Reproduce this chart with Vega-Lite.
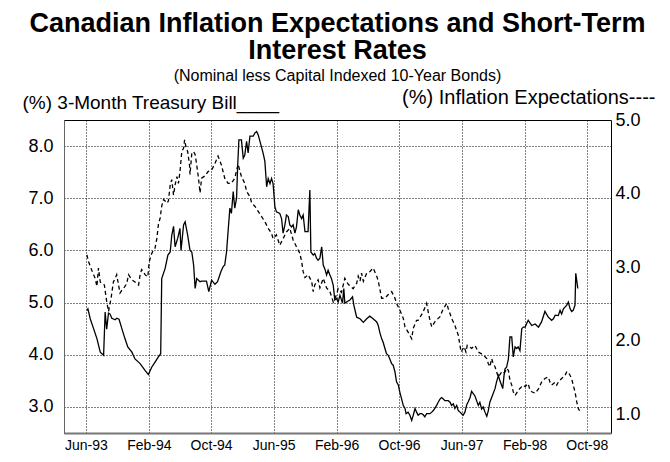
{
  "$schema": "https://vega.github.io/schema/vega-lite/v6.json",
  "width": 547,
  "height": 313,
  "autosize": {"type": "none"},
  "padding": {"left": 64, "top": 120, "right": 59, "bottom": 29},
  "background": "white",
  "title": {
    "text": ["Canadian Inflation Expectations and Short-Term", "Interest Rates"],
    "subtitle": "(Nominal less Capital Indexed 10-Year Bonds)",
    "font": "Liberation Sans",
    "fontSize": 27,
    "fontWeight": "bold",
    "color": "black",
    "lineHeight": 27,
    "subtitleFont": "Liberation Sans",
    "subtitleFontSize": 16,
    "subtitleColor": "black",
    "subtitlePadding": 3,
    "anchor": "middle",
    "frame": "group",
    "offset": 2
  },
  "config": {
    "view": {"stroke": "black", "strokeWidth": 1},
    "axis": {
      "labelFont": "Liberation Sans",
      "titleFont": "Liberation Sans",
      "labelColor": "black",
      "titleColor": "black",
      "ticks": false,
      "gridColor": "black",
      "gridDash": [1, 2],
      "gridWidth": 1,
      "gridOpacity": 1
    }
  },
  "datasets": {
    "tbill": [
      {"date": "1993-06-05", "value": 4.85}, {"date": "1993-06-09", "value": 4.88}, {"date": "1993-06-18", "value": 4.69},
      {"date": "1993-07-01", "value": 4.50}, {"date": "1993-07-14", "value": 4.31}, {"date": "1993-07-27", "value": 4.05},
      {"date": "1993-08-09", "value": 3.99}, {"date": "1993-08-15", "value": 4.82}, {"date": "1993-08-21", "value": 4.49},
      {"date": "1993-08-28", "value": 4.80}, {"date": "1993-09-03", "value": 4.78}, {"date": "1993-09-10", "value": 4.70},
      {"date": "1993-09-23", "value": 4.67}, {"date": "1993-09-29", "value": 4.70}, {"date": "1993-10-08", "value": 4.68},
      {"date": "1993-10-19", "value": 4.50}, {"date": "1993-10-31", "value": 4.31}, {"date": "1993-11-11", "value": 4.15},
      {"date": "1993-11-27", "value": 4.05}, {"date": "1993-12-09", "value": 3.92}, {"date": "1993-12-29", "value": 3.83},
      {"date": "1994-01-17", "value": 3.70}, {"date": "1994-01-30", "value": 3.62}, {"date": "1994-02-12", "value": 3.76},
      {"date": "1994-02-25", "value": 3.86}, {"date": "1994-03-10", "value": 3.96}, {"date": "1994-03-19", "value": 4.02},
      {"date": "1994-03-23", "value": 5.46}, {"date": "1994-04-05", "value": 5.65}, {"date": "1994-04-16", "value": 5.91},
      {"date": "1994-04-25", "value": 5.97}, {"date": "1994-05-01", "value": 6.29}, {"date": "1994-05-08", "value": 6.46},
      {"date": "1994-05-14", "value": 6.07}, {"date": "1994-05-24", "value": 6.23}, {"date": "1994-06-02", "value": 6.42},
      {"date": "1994-06-06", "value": 6.00}, {"date": "1994-06-16", "value": 6.49}, {"date": "1994-06-22", "value": 6.55},
      {"date": "1994-07-02", "value": 6.29}, {"date": "1994-07-11", "value": 6.00}, {"date": "1994-07-18", "value": 5.97},
      {"date": "1994-07-25", "value": 5.72}, {"date": "1994-07-31", "value": 5.27}, {"date": "1994-08-06", "value": 5.46},
      {"date": "1994-08-19", "value": 5.40}, {"date": "1994-08-25", "value": 5.41}, {"date": "1994-09-13", "value": 5.41},
      {"date": "1994-09-22", "value": 5.21}, {"date": "1994-10-03", "value": 5.43}, {"date": "1994-10-16", "value": 5.35},
      {"date": "1994-10-26", "value": 5.40}, {"date": "1994-11-08", "value": 5.59}, {"date": "1994-11-17", "value": 5.69},
      {"date": "1994-11-23", "value": 5.72}, {"date": "1994-11-30", "value": 5.97}, {"date": "1994-12-06", "value": 6.36},
      {"date": "1994-12-13", "value": 6.81}, {"date": "1994-12-19", "value": 6.71}, {"date": "1994-12-26", "value": 7.13},
      {"date": "1995-01-01", "value": 6.81}, {"date": "1995-01-08", "value": 7.00}, {"date": "1995-01-12", "value": 7.58},
      {"date": "1995-01-17", "value": 8.12}, {"date": "1995-01-27", "value": 8.12}, {"date": "1995-02-03", "value": 7.77},
      {"date": "1995-02-09", "value": 7.83}, {"date": "1995-02-16", "value": 8.09}, {"date": "1995-02-22", "value": 7.87},
      {"date": "1995-03-01", "value": 8.19}, {"date": "1995-03-14", "value": 8.19}, {"date": "1995-03-20", "value": 8.25},
      {"date": "1995-03-27", "value": 8.28}, {"date": "1995-04-02", "value": 8.22}, {"date": "1995-04-09", "value": 8.09},
      {"date": "1995-04-21", "value": 7.87}, {"date": "1995-04-28", "value": 7.71}, {"date": "1995-05-05", "value": 7.22},
      {"date": "1995-05-11", "value": 7.38}, {"date": "1995-05-18", "value": 7.28}, {"date": "1995-05-24", "value": 7.38},
      {"date": "1995-05-30", "value": 7.28}, {"date": "1995-06-06", "value": 6.84}, {"date": "1995-06-12", "value": 6.74},
      {"date": "1995-06-25", "value": 6.71}, {"date": "1995-07-02", "value": 6.61}, {"date": "1995-07-08", "value": 6.33},
      {"date": "1995-07-15", "value": 6.49}, {"date": "1995-07-21", "value": 6.68}, {"date": "1995-07-28", "value": 6.65},
      {"date": "1995-08-03", "value": 6.49}, {"date": "1995-08-10", "value": 6.45}, {"date": "1995-08-16", "value": 6.49},
      {"date": "1995-08-23", "value": 6.33}, {"date": "1995-08-29", "value": 6.45}, {"date": "1995-09-05", "value": 6.78},
      {"date": "1995-09-11", "value": 6.68}, {"date": "1995-09-18", "value": 6.61}, {"date": "1995-09-24", "value": 6.68},
      {"date": "1995-10-01", "value": 6.36}, {"date": "1995-10-13", "value": 6.36}, {"date": "1995-10-20", "value": 7.16},
      {"date": "1995-10-24", "value": 5.97}, {"date": "1995-11-02", "value": 5.91}, {"date": "1995-11-08", "value": 5.94},
      {"date": "1995-11-15", "value": 5.85}, {"date": "1995-11-21", "value": 5.81}, {"date": "1995-11-28", "value": 5.85},
      {"date": "1995-12-05", "value": 6.07}, {"date": "1995-12-11", "value": 5.72}, {"date": "1995-12-17", "value": 5.65},
      {"date": "1995-12-24", "value": 5.53}, {"date": "1995-12-30", "value": 5.62}, {"date": "1996-01-06", "value": 5.53},
      {"date": "1996-01-12", "value": 5.46}, {"date": "1996-01-19", "value": 5.33}, {"date": "1996-01-25", "value": 5.05},
      {"date": "1996-02-01", "value": 5.08}, {"date": "1996-02-07", "value": 5.01}, {"date": "1996-02-14", "value": 5.14},
      {"date": "1996-02-24", "value": 4.99}, {"date": "1996-02-29", "value": 5.27}, {"date": "1996-03-04", "value": 4.99},
      {"date": "1996-03-17", "value": 5.03}, {"date": "1996-03-24", "value": 5.05}, {"date": "1996-04-03", "value": 5.11},
      {"date": "1996-04-08", "value": 4.95}, {"date": "1996-04-19", "value": 4.72}, {"date": "1996-05-02", "value": 4.69},
      {"date": "1996-05-15", "value": 4.62}, {"date": "1996-05-28", "value": 4.69}, {"date": "1996-06-09", "value": 4.74},
      {"date": "1996-06-22", "value": 4.69}, {"date": "1996-07-06", "value": 4.63}, {"date": "1996-07-12", "value": 4.56},
      {"date": "1996-07-18", "value": 4.43}, {"date": "1996-07-25", "value": 4.31}, {"date": "1996-07-31", "value": 4.24},
      {"date": "1996-08-07", "value": 4.12}, {"date": "1996-08-13", "value": 4.02}, {"date": "1996-08-20", "value": 3.99},
      {"date": "1996-08-26", "value": 3.92}, {"date": "1996-09-02", "value": 3.83}, {"date": "1996-09-08", "value": 3.80},
      {"date": "1996-09-15", "value": 3.67}, {"date": "1996-09-21", "value": 3.48}, {"date": "1996-09-28", "value": 3.42},
      {"date": "1996-10-04", "value": 3.28}, {"date": "1996-10-11", "value": 3.15}, {"date": "1996-10-17", "value": 3.03},
      {"date": "1996-10-24", "value": 2.97}, {"date": "1996-10-28", "value": 2.87}, {"date": "1996-11-05", "value": 2.90},
      {"date": "1996-11-12", "value": 2.84}, {"date": "1996-11-19", "value": 2.74}, {"date": "1996-11-25", "value": 2.84},
      {"date": "1996-12-02", "value": 2.97}, {"date": "1996-12-08", "value": 2.90}, {"date": "1996-12-14", "value": 2.84},
      {"date": "1996-12-21", "value": 2.87}, {"date": "1996-12-28", "value": 2.87}, {"date": "1997-01-03", "value": 2.85},
      {"date": "1997-01-09", "value": 2.81}, {"date": "1997-01-16", "value": 2.87}, {"date": "1997-01-29", "value": 2.87},
      {"date": "1997-02-05", "value": 2.90}, {"date": "1997-02-11", "value": 2.93}, {"date": "1997-02-17", "value": 2.97},
      {"date": "1997-02-24", "value": 3.03}, {"date": "1997-03-02", "value": 3.09}, {"date": "1997-03-09", "value": 3.15},
      {"date": "1997-03-15", "value": 3.18}, {"date": "1997-03-22", "value": 3.15}, {"date": "1997-03-28", "value": 3.12},
      {"date": "1997-04-04", "value": 3.12}, {"date": "1997-04-10", "value": 3.12}, {"date": "1997-04-17", "value": 3.09},
      {"date": "1997-04-23", "value": 3.03}, {"date": "1997-04-30", "value": 3.06}, {"date": "1997-05-06", "value": 2.97},
      {"date": "1997-05-13", "value": 3.03}, {"date": "1997-05-19", "value": 2.93}, {"date": "1997-05-26", "value": 2.90},
      {"date": "1997-06-01", "value": 2.87}, {"date": "1997-06-07", "value": 2.84}, {"date": "1997-06-14", "value": 2.90},
      {"date": "1997-06-21", "value": 3.04}, {"date": "1997-06-27", "value": 3.10}, {"date": "1997-07-04", "value": 3.18},
      {"date": "1997-07-10", "value": 3.30}, {"date": "1997-07-23", "value": 3.21}, {"date": "1997-08-05", "value": 3.03},
      {"date": "1997-08-11", "value": 3.09}, {"date": "1997-08-18", "value": 2.96}, {"date": "1997-08-24", "value": 3.00},
      {"date": "1997-08-31", "value": 2.90}, {"date": "1997-09-07", "value": 2.82}, {"date": "1997-09-13", "value": 2.93},
      {"date": "1997-09-19", "value": 3.09}, {"date": "1997-09-26", "value": 3.18}, {"date": "1997-10-09", "value": 3.35},
      {"date": "1997-10-15", "value": 3.48}, {"date": "1997-10-22", "value": 3.60}, {"date": "1997-10-28", "value": 3.50},
      {"date": "1997-11-04", "value": 3.41}, {"date": "1997-11-08", "value": 3.35}, {"date": "1997-11-13", "value": 3.60},
      {"date": "1997-11-17", "value": 3.73}, {"date": "1997-11-23", "value": 3.76}, {"date": "1997-11-30", "value": 3.92},
      {"date": "1997-12-06", "value": 4.34}, {"date": "1997-12-13", "value": 4.34}, {"date": "1997-12-19", "value": 3.96},
      {"date": "1997-12-26", "value": 4.15}, {"date": "1998-01-01", "value": 4.12}, {"date": "1998-01-07", "value": 4.15},
      {"date": "1998-01-14", "value": 4.08}, {"date": "1998-01-21", "value": 4.50}, {"date": "1998-01-27", "value": 4.53},
      {"date": "1998-02-03", "value": 4.53}, {"date": "1998-02-09", "value": 4.60}, {"date": "1998-02-15", "value": 4.66},
      {"date": "1998-03-01", "value": 4.56}, {"date": "1998-03-14", "value": 4.59}, {"date": "1998-03-27", "value": 4.53},
      {"date": "1998-04-08", "value": 4.63}, {"date": "1998-04-21", "value": 4.83}, {"date": "1998-05-04", "value": 4.72},
      {"date": "1998-05-11", "value": 4.69}, {"date": "1998-05-17", "value": 4.66}, {"date": "1998-05-24", "value": 4.69},
      {"date": "1998-05-31", "value": 4.76}, {"date": "1998-06-12", "value": 4.75}, {"date": "1998-06-19", "value": 4.85},
      {"date": "1998-06-25", "value": 4.78}, {"date": "1998-07-02", "value": 4.88}, {"date": "1998-07-15", "value": 4.95},
      {"date": "1998-07-21", "value": 5.01}, {"date": "1998-07-28", "value": 4.88}, {"date": "1998-08-03", "value": 4.83},
      {"date": "1998-08-09", "value": 4.85}, {"date": "1998-08-16", "value": 4.95}, {"date": "1998-08-19", "value": 5.56},
      {"date": "1998-08-27", "value": 5.27}
    ],
    "infl": [
      {"date": "1993-06-05", "value": 3.17}, {"date": "1993-06-11", "value": 3.08}, {"date": "1993-06-24", "value": 2.96},
      {"date": "1993-07-07", "value": 2.85}, {"date": "1993-07-14", "value": 2.74}, {"date": "1993-07-20", "value": 2.99},
      {"date": "1993-07-27", "value": 2.80}, {"date": "1993-08-02", "value": 2.78}, {"date": "1993-08-12", "value": 2.76},
      {"date": "1993-08-19", "value": 2.58}, {"date": "1993-08-28", "value": 2.40}, {"date": "1993-09-07", "value": 2.58},
      {"date": "1993-09-16", "value": 2.80}, {"date": "1993-09-23", "value": 2.85}, {"date": "1993-09-29", "value": 2.90},
      {"date": "1993-10-06", "value": 2.76}, {"date": "1993-10-12", "value": 2.65}, {"date": "1993-10-19", "value": 2.69},
      {"date": "1993-10-31", "value": 2.74}, {"date": "1993-11-07", "value": 2.78}, {"date": "1993-11-14", "value": 2.90},
      {"date": "1993-11-27", "value": 2.83}, {"date": "1993-12-09", "value": 2.80}, {"date": "1993-12-23", "value": 2.76},
      {"date": "1993-12-29", "value": 2.90}, {"date": "1994-01-04", "value": 2.97}, {"date": "1994-01-11", "value": 2.94},
      {"date": "1994-01-17", "value": 2.90}, {"date": "1994-01-28", "value": 2.87}, {"date": "1994-02-02", "value": 3.07},
      {"date": "1994-02-10", "value": 3.17}, {"date": "1994-02-19", "value": 3.24}, {"date": "1994-02-25", "value": 3.26},
      {"date": "1994-03-04", "value": 3.39}, {"date": "1994-03-10", "value": 3.58}, {"date": "1994-03-17", "value": 3.67},
      {"date": "1994-03-23", "value": 3.83}, {"date": "1994-03-30", "value": 3.92}, {"date": "1994-04-05", "value": 3.90},
      {"date": "1994-04-12", "value": 3.87}, {"date": "1994-04-18", "value": 3.90}, {"date": "1994-04-25", "value": 4.12},
      {"date": "1994-05-01", "value": 4.19}, {"date": "1994-05-08", "value": 3.98}, {"date": "1994-05-14", "value": 4.12},
      {"date": "1994-05-21", "value": 4.23}, {"date": "1994-05-27", "value": 4.14}, {"date": "1994-06-02", "value": 4.30},
      {"date": "1994-06-09", "value": 4.57}, {"date": "1994-06-16", "value": 4.62}, {"date": "1994-06-20", "value": 4.73},
      {"date": "1994-06-25", "value": 4.64}, {"date": "1994-07-02", "value": 4.57}, {"date": "1994-07-09", "value": 4.39},
      {"date": "1994-07-11", "value": 4.26}, {"date": "1994-07-18", "value": 4.55}, {"date": "1994-07-25", "value": 4.57},
      {"date": "1994-07-31", "value": 4.53}, {"date": "1994-08-06", "value": 4.39}, {"date": "1994-08-13", "value": 4.21},
      {"date": "1994-08-19", "value": 4.01}, {"date": "1994-08-25", "value": 4.21}, {"date": "1994-09-07", "value": 4.24},
      {"date": "1994-09-19", "value": 4.30}, {"date": "1994-10-03", "value": 4.32}, {"date": "1994-10-16", "value": 4.41},
      {"date": "1994-10-28", "value": 4.51}, {"date": "1994-11-10", "value": 4.39}, {"date": "1994-11-23", "value": 4.21},
      {"date": "1994-12-06", "value": 4.14}, {"date": "1994-12-19", "value": 4.14}, {"date": "1995-01-01", "value": 4.21},
      {"date": "1995-01-14", "value": 4.40}, {"date": "1995-01-27", "value": 4.23}, {"date": "1995-02-09", "value": 4.14},
      {"date": "1995-02-16", "value": 4.03}, {"date": "1995-03-01", "value": 3.96}, {"date": "1995-03-08", "value": 3.87},
      {"date": "1995-03-20", "value": 3.83}, {"date": "1995-04-02", "value": 3.76}, {"date": "1995-04-15", "value": 3.69},
      {"date": "1995-04-28", "value": 3.62}, {"date": "1995-05-11", "value": 3.53}, {"date": "1995-05-24", "value": 3.46},
      {"date": "1995-05-30", "value": 3.39}, {"date": "1995-06-12", "value": 3.44}, {"date": "1995-06-25", "value": 3.30},
      {"date": "1995-07-08", "value": 3.39}, {"date": "1995-07-21", "value": 3.48}, {"date": "1995-08-03", "value": 3.53},
      {"date": "1995-08-16", "value": 3.37}, {"date": "1995-08-29", "value": 3.28}, {"date": "1995-09-11", "value": 3.19},
      {"date": "1995-09-18", "value": 3.08}, {"date": "1995-09-24", "value": 2.94}, {"date": "1995-10-01", "value": 2.86},
      {"date": "1995-10-13", "value": 2.90}, {"date": "1995-10-27", "value": 2.81}, {"date": "1995-11-02", "value": 2.67},
      {"date": "1995-11-08", "value": 2.76}, {"date": "1995-11-21", "value": 2.83}, {"date": "1995-11-28", "value": 2.72},
      {"date": "1995-12-11", "value": 2.85}, {"date": "1995-12-24", "value": 2.72}, {"date": "1996-01-06", "value": 2.67},
      {"date": "1996-01-19", "value": 2.53}, {"date": "1996-02-01", "value": 2.63}, {"date": "1996-02-07", "value": 2.71},
      {"date": "1996-02-20", "value": 2.66}, {"date": "1996-03-04", "value": 2.85}, {"date": "1996-03-17", "value": 2.77},
      {"date": "1996-04-05", "value": 2.71}, {"date": "1996-04-19", "value": 2.78}, {"date": "1996-04-25", "value": 2.88},
      {"date": "1996-05-02", "value": 2.81}, {"date": "1996-05-08", "value": 2.92}, {"date": "1996-05-15", "value": 2.81},
      {"date": "1996-05-28", "value": 2.92}, {"date": "1996-06-09", "value": 2.94}, {"date": "1996-06-22", "value": 2.99},
      {"date": "1996-07-06", "value": 2.88}, {"date": "1996-07-12", "value": 2.81}, {"date": "1996-07-18", "value": 2.71},
      {"date": "1996-07-25", "value": 2.58}, {"date": "1996-08-07", "value": 2.58}, {"date": "1996-08-20", "value": 2.63},
      {"date": "1996-09-02", "value": 2.67}, {"date": "1996-09-15", "value": 2.58}, {"date": "1996-09-21", "value": 2.51},
      {"date": "1996-10-04", "value": 2.42}, {"date": "1996-10-17", "value": 2.31}, {"date": "1996-10-24", "value": 2.19},
      {"date": "1996-11-05", "value": 2.12}, {"date": "1996-11-19", "value": 2.03}, {"date": "1996-11-25", "value": 2.17},
      {"date": "1996-12-08", "value": 2.28}, {"date": "1996-12-14", "value": 2.28}, {"date": "1996-12-28", "value": 2.36},
      {"date": "1997-01-03", "value": 2.40}, {"date": "1997-01-16", "value": 2.51}, {"date": "1997-01-22", "value": 2.40},
      {"date": "1997-01-29", "value": 2.28}, {"date": "1997-02-05", "value": 2.19}, {"date": "1997-02-17", "value": 2.26},
      {"date": "1997-03-09", "value": 2.33}, {"date": "1997-03-22", "value": 2.44}, {"date": "1997-03-28", "value": 2.47},
      {"date": "1997-04-04", "value": 2.51}, {"date": "1997-04-10", "value": 2.44}, {"date": "1997-04-23", "value": 2.31},
      {"date": "1997-05-06", "value": 2.21}, {"date": "1997-05-19", "value": 2.08}, {"date": "1997-05-30", "value": 1.85},
      {"date": "1997-06-11", "value": 1.92}, {"date": "1997-06-18", "value": 1.85}, {"date": "1997-06-23", "value": 1.94},
      {"date": "1997-07-10", "value": 1.90}, {"date": "1997-07-23", "value": 1.94}, {"date": "1997-08-05", "value": 1.85},
      {"date": "1997-08-24", "value": 1.81}, {"date": "1997-09-07", "value": 1.76}, {"date": "1997-09-13", "value": 1.69},
      {"date": "1997-09-19", "value": 1.65}, {"date": "1997-09-26", "value": 1.76}, {"date": "1997-10-02", "value": 1.69},
      {"date": "1997-10-09", "value": 1.65}, {"date": "1997-10-15", "value": 1.58}, {"date": "1997-10-22", "value": 1.51},
      {"date": "1997-11-04", "value": 1.58}, {"date": "1997-11-10", "value": 1.56}, {"date": "1997-11-17", "value": 1.58},
      {"date": "1997-11-23", "value": 1.63}, {"date": "1997-11-30", "value": 1.60}, {"date": "1997-12-06", "value": 1.47},
      {"date": "1997-12-13", "value": 1.40}, {"date": "1997-12-19", "value": 1.31}, {"date": "1997-12-26", "value": 1.26},
      {"date": "1998-01-01", "value": 1.29}, {"date": "1998-01-07", "value": 1.33}, {"date": "1998-01-21", "value": 1.38},
      {"date": "1998-01-27", "value": 1.40}, {"date": "1998-02-03", "value": 1.38}, {"date": "1998-02-15", "value": 1.42},
      {"date": "1998-02-22", "value": 1.33}, {"date": "1998-03-01", "value": 1.31}, {"date": "1998-03-14", "value": 1.29},
      {"date": "1998-03-27", "value": 1.35}, {"date": "1998-04-08", "value": 1.44}, {"date": "1998-04-21", "value": 1.49},
      {"date": "1998-05-04", "value": 1.51}, {"date": "1998-05-11", "value": 1.44}, {"date": "1998-05-17", "value": 1.40},
      {"date": "1998-05-31", "value": 1.44}, {"date": "1998-06-06", "value": 1.40}, {"date": "1998-06-12", "value": 1.44},
      {"date": "1998-06-25", "value": 1.49}, {"date": "1998-07-08", "value": 1.53}, {"date": "1998-07-15", "value": 1.58},
      {"date": "1998-07-21", "value": 1.58}, {"date": "1998-07-28", "value": 1.53}, {"date": "1998-08-03", "value": 1.49},
      {"date": "1998-08-09", "value": 1.40}, {"date": "1998-08-16", "value": 1.31}, {"date": "1998-08-23", "value": 1.17},
      {"date": "1998-08-29", "value": 1.08}, {"date": "1998-09-05", "value": 1.04}
    ]
  },
  "layer": [
    {
      "data": {"name": "infl"},
      "mark": {"type": "line", "color": "black", "strokeWidth": 1.3, "strokeDash": [4, 3]},
      "encoding": {
        "x": {
          "field": "date",
          "type": "temporal",
          "scale": {"type": "utc", "domain": [{"year": 1993, "month": 3, "date": 8, "utc": true}, {"year": 1999, "month": 1, "date": 3, "utc": true}]},
          "axis": {
            "title": null,
            "format": "%b-%y",
            "values": [
              {"year": 1993, "month": 6, "date": 1, "utc": true},
              {"year": 1994, "month": 2, "date": 1, "utc": true},
              {"year": 1994, "month": 10, "date": 1, "utc": true},
              {"year": 1995, "month": 6, "date": 1, "utc": true},
              {"year": 1996, "month": 2, "date": 1, "utc": true},
              {"year": 1996, "month": 10, "date": 1, "utc": true},
              {"year": 1997, "month": 6, "date": 1, "utc": true},
              {"year": 1998, "month": 2, "date": 1, "utc": true},
              {"year": 1998, "month": 10, "date": 1, "utc": true}
            ],
            "grid": true,
            "labelFontSize": 14,
            "labelPadding": 5,
            "labelFlush": false,
            "labelOverlap": false,
            "domainColor": "#777777",
            "domainWidth": 2
          }
        },
        "y": {
          "field": "value",
          "type": "quantitative",
          "scale": {"domain": [0.75, 5.0], "nice": false, "zero": false},
          "axis": {
            "orient": "right",
            "values": [1, 2, 3, 4, 5],
            "format": ".1f",
            "grid": false,
            "domain": false,
            "labelFontSize": 18,
            "labelPadding": 4,
            "title": "(%) Inflation Expectations----",
            "titleAngle": 0,
            "titleAlign": "right",
            "titleBaseline": "alphabetic",
            "titleX": 44,
            "titleY": -17,
            "titleFontSize": 20,
            "titleFontWeight": "normal"
          }
        }
      }
    },
    {
      "data": {"name": "tbill"},
      "mark": {"type": "line", "color": "black", "strokeWidth": 1.3},
      "encoding": {
        "x": {"field": "date", "type": "temporal"},
        "y": {
          "field": "value",
          "type": "quantitative",
          "scale": {"domain": [2.5, 8.5], "nice": false, "zero": false},
          "axis": {
            "orient": "left",
            "values": [3, 4, 5, 6, 7, 8],
            "format": ".1f",
            "grid": true,
            "domainColor": "#666666",
            "labelFontSize": 18,
            "labelPadding": 11,
            "title": "(%) 3-Month Treasury Bill____",
            "titleAngle": 0,
            "titleAlign": "left",
            "titleBaseline": "alphabetic",
            "titleX": -42,
            "titleY": -12,
            "titleFontSize": 19,
            "titleFontWeight": "normal"
          }
        }
      }
    }
  ],
  "resolve": {"scale": {"y": "independent"}}
}
